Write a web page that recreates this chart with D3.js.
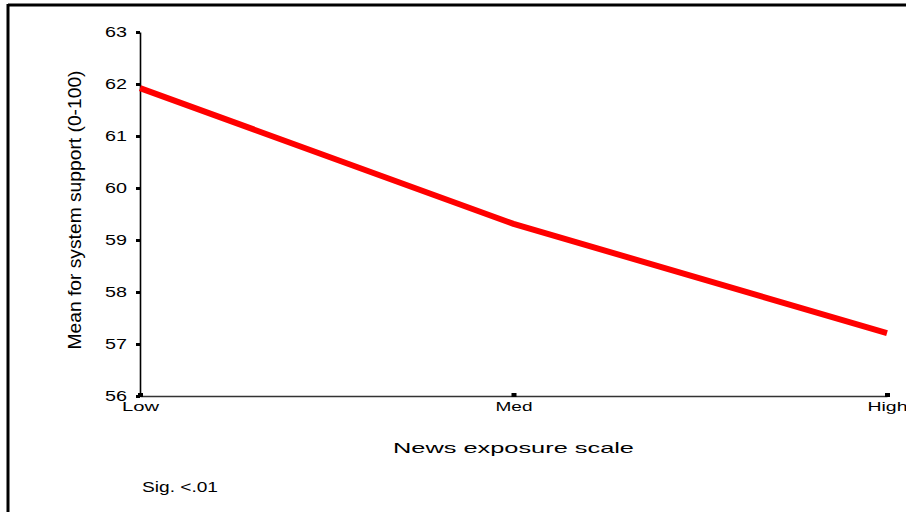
<!DOCTYPE html>
<html>
<head>
<meta charset="utf-8">
<script src="https://cdn.jsdelivr.net/npm/d3@7"></script>
<style>
  html, body { margin: 0; padding: 0; background: #fff; }
  svg { display: block; }
  text { font-family: "Liberation Sans", Arial, sans-serif; fill: #000; }
</style>
</head>
<body>
<svg id="chart" width="906" height="512"></svg>
<script>
// Mean system support by level of news exposure
const categories = ["Low", "Med", "High"];
const meanSupport = [61.92, 59.31, 57.21];
const yTicks = [56, 57, 58, 59, 60, 61, 62, 63];

const svg = d3.select("#chart");
const W = 906, H = 512;
const FONT = "'Liberation Sans', Arial, sans-serif";

// Outer frame (left and top edges visible)
svg.append("line").attr("x1", 8).attr("y1", 5).attr("x2", W).attr("y2", 5)
  .attr("stroke", "#000").attr("stroke-width", 3);
svg.append("line").attr("x1", 8).attr("y1", 4).attr("x2", 8).attr("y2", H)
  .attr("stroke", "#000").attr("stroke-width", 3);

const x = d3.scalePoint().domain(categories).range([140, 887]);
const y = d3.scaleLinear().domain([56, 63]).range([396, 32]);

// X axis
const xAxis = svg.append("g").attr("transform", "translate(0,396)")
  .call(d3.axisBottom(x).tickSize(0).tickPadding(6));
xAxis.select(".domain").attr("stroke", "#333").attr("stroke-width", 1.6);
xAxis.selectAll(".tick text")
  .attr("font-size", 12)
  .attr("textLength", d => d === "High" ? 40 : 37)
  .attr("lengthAdjust", "spacingAndGlyphs")
  .style("font-family", FONT);
xAxis.selectAll(".tick").append("rect")
  .attr("x", -2.5).attr("y", -3).attr("width", 5).attr("height", 4).attr("fill", "#000");

// Y axis
const yAxis = svg.append("g").attr("transform", "translate(140,0)")
  .call(d3.axisLeft(y).tickValues(yTicks).tickFormat(d3.format("d")).tickSize(0).tickPadding(13));
yAxis.select(".domain").attr("stroke", "#000").attr("stroke-width", 1.6);
yAxis.selectAll(".tick text")
  .attr("font-size", 15.5)
  .attr("textLength", 22)
  .attr("lengthAdjust", "spacingAndGlyphs")
  .style("font-family", FONT);
yAxis.selectAll(".tick").append("rect")
  .attr("x", -4).attr("y", -1.5).attr("width", 4).attr("height", 3).attr("fill", "#000");

// Mean line
const line = d3.line().x((d, i) => x(categories[i])).y(d => y(d));
svg.append("path").datum(meanSupport)
  .attr("d", line)
  .attr("fill", "none")
  .attr("stroke", "#ff0000")
  .attr("stroke-width", 6)
  .attr("stroke-linejoin", "round");

// Axis titles
svg.append("text")
  .attr("transform", "translate(81,210) rotate(-90)")
  .attr("text-anchor", "middle")
  .attr("font-size", 18)
  .attr("textLength", 279)
  .attr("lengthAdjust", "spacingAndGlyphs")
  .text("Mean for system support (0-100)");

svg.append("text")
  .attr("x", 393).attr("y", 453)
  .attr("font-size", 14.5)
  .attr("textLength", 241)
  .attr("lengthAdjust", "spacingAndGlyphs")
  .text("News exposure scale");

svg.append("text")
  .attr("x", 142).attr("y", 492)
  .attr("font-size", 15)
  .attr("textLength", 76)
  .attr("lengthAdjust", "spacingAndGlyphs")
  .text("Sig. <.01");
</script>
</body>
</html>
